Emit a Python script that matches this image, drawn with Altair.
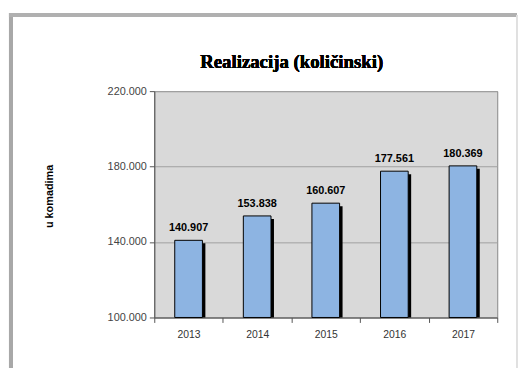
import altair as alt
import pandas as pd

years = ["2013", "2014", "2015", "2016", "2017"]
values = [140907, 153838, 160607, 177561, 180369]
labels = ["140.907", "153.838", "160.607", "177.561", "180.369"]
y_ticks = [100000, 140000, 180000, 220000]
title_text = "Realizacija (količinski)"

df = pd.DataFrame({"year": years, "value": values, "label": labels})

W, H = 347, 229
FONT = "Liberation Sans"

x = alt.X(
    "year:N",
    sort=years,
    scale=alt.Scale(paddingInner=0, paddingOuter=0),
    axis=alt.Axis(
        title=None, labelAngle=0, tickBand="extent", grid=False,
        labelFont=FONT, labelFontSize=10.5, labelColor="#333333",
        tickSize=5, labelPadding=7, domainColor="#555555", tickColor="#555555",
    ),
)
y = alt.Y(
    "value:Q",
    scale=alt.Scale(domain=[100000, 220000], nice=False, zero=False),
    axis=alt.Axis(
        values=y_ticks,
        labelExpr="replace(format(datum.value, ','), ',', '.')",
        title="u komadima", titleAngle=270, titleFont=FONT, titleFontSize=11,
        titleFontWeight="bold", titleColor="black", titleX=-106, titleY=106,
        titleAlign="center", titleBaseline="middle",
        labelFont=FONT, labelFontSize=11, labelColor="#444444",
        tickSize=5, labelPadding=3, domainColor="#555555", tickColor="#555555",
        grid=True, gridColor="#a0a0a0", gridWidth=1,
    ),
)

frame_left = alt.Chart().mark_rule(color="#a8a8a8", strokeWidth=4).encode(
    x=alt.value(-145), y=alt.value(-79), y2=alt.value(300))
frame_top = alt.Chart().mark_rule(color="#b0b0b0", strokeWidth=4).encode(
    y=alt.value(-77), x=alt.value(-147), x2=alt.value(367))
frame_right = alt.Chart().mark_rule(color="#e0e0e0", strokeWidth=1).encode(
    x=alt.value(367), y=alt.value(-77), y2=alt.value(300))

title = alt.Chart().mark_text(
    font="Liberation Serif", fontSize=19, fontWeight="bold", color="black",
    align="center", baseline="middle",
).encode(x=alt.value(139), y=alt.value(-29), text=alt.value(title_text))

shadow = alt.Chart().mark_bar(width=28, color="black", xOffset=3, yOffset=3).encode(
    x=x, y=y, y2=alt.datum(100000))
bars = alt.Chart().mark_bar(width=28, fill="#8db4e2", stroke="black", strokeWidth=1).encode(
    x=x, y=y, y2=alt.datum(100000))
text = alt.Chart().mark_text(dy=-7, baseline="bottom", fontWeight="bold", fontSize=11,
                             font=FONT, color="black").encode(x=x, y=y, text="label:N")

chart = alt.layer(frame_left, frame_top, frame_right, title, shadow, bars, text, data=df).properties(
    width=W, height=H,
    padding={"left": 148, "top": 82, "right": 21, "bottom": 49},
    autosize=alt.AutoSizeParams(type="none"),
    background="white",
).configure_view(fill="#d9d9d9", stroke="#888888", strokeWidth=1)

chart.save("out.html", embed_options={"renderer": "svg", "actions": False})
